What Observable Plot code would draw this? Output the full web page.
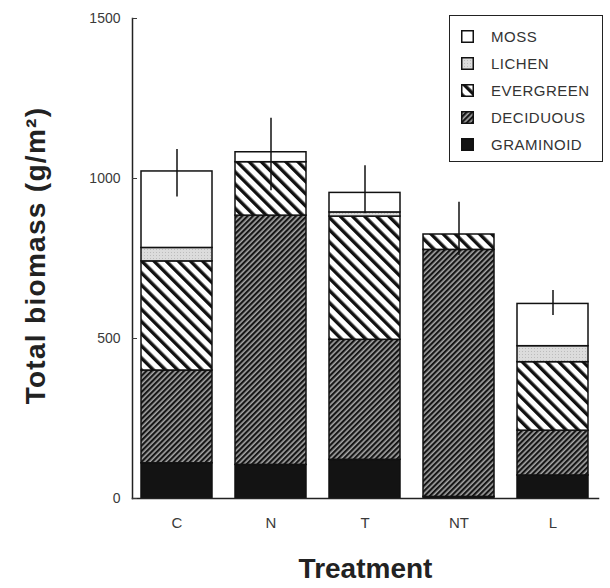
<!DOCTYPE html>
<html>
<head>
<meta charset="utf-8">
<script src="https://cdn.jsdelivr.net/npm/d3@7"></script>
<script src="https://cdn.jsdelivr.net/npm/@observablehq/plot@0.6"></script>
<style>
  html, body { margin: 0; padding: 0; background: #fff; }
  #wrap { position: relative; width: 610px; height: 588px; font-family: "Liberation Sans", Arial, sans-serif; }
  #legend { position: absolute; left: 449px; top: 15px; width: 154px; height: 147px; border: 1.5px solid #222; box-sizing: border-box; background: #fff; }
  .item { position: absolute; left: 0; height: 16px; display: flex; align-items: center; }
  .item svg { margin-left: 11px; }
  .item span { margin-left: 17px; font-size: 15px; color: #333; letter-spacing: 0.5px; }
  .ylab text { letter-spacing: 1.3px; }
</style>
</head>
<body>
<div id="wrap"></div>
<script>
const treatments = ["C", "N", "T", "NT", "L"];
const components = ["GRAMINOID", "DECIDUOUS", "EVERGREEN", "LICHEN", "MOSS"];
const legendOrder = ["MOSS", "LICHEN", "EVERGREEN", "DECIDUOUS", "GRAMINOID"];
const graminoid = [110, 105, 121, 5, 72];
const deciduous = [290, 779, 375, 772, 140];
const evergreen = [341, 167, 385, 48, 214];
const lichen = [42, 0, 13, 0, 50];
const moss = [239, 31, 61, 0, 132];
const errUpper = [1091, 1188, 1040, 926, 650];
const errLower = [942, 962, 890, 759, 572];
const yTicks = [0, 500, 1000, 1500];

const series = {GRAMINOID: graminoid, DECIDUOUS: deciduous, EVERGREEN: evergreen, LICHEN: lichen, MOSS: moss};
const patternUrl = {
  GRAMINOID: "url(#pGram)",
  DECIDUOUS: "url(#pDec)",
  EVERGREEN: "url(#pEver)",
  LICHEN: "url(#pLich)",
  MOSS: "url(#pMoss)"
};

const rows = [];
treatments.forEach((t, i) => {
  components.forEach(c => rows.push({treatment: t, component: c, value: series[c][i]}));
});
const errRows = treatments.map((t, i) => ({treatment: t, lo: errLower[i], hi: errUpper[i]}));

function defs() {
  const d = d3.create("svg:defs");
  const ev = d.append("pattern").attr("id", "pEver").attr("patternUnits", "userSpaceOnUse")
    .attr("width", 8.6).attr("height", 8.6).attr("patternTransform", "rotate(-45)");
  ev.append("rect").attr("width", 8.6).attr("height", 8.6).attr("fill", "#fff");
  ev.append("rect").attr("width", 3.4).attr("height", 8.6).attr("fill", "#111");
  const de = d.append("pattern").attr("id", "pDec").attr("patternUnits", "userSpaceOnUse")
    .attr("width", 3.8).attr("height", 3.8).attr("patternTransform", "rotate(45)");
  de.append("rect").attr("width", 3.8).attr("height", 3.8).attr("fill", "#a6a6a6");
  de.append("rect").attr("width", 2.2).attr("height", 3.8).attr("fill", "#161616");
  const gr = d.append("pattern").attr("id", "pGram").attr("patternUnits", "userSpaceOnUse")
    .attr("width", 4).attr("height", 4);
  gr.append("rect").attr("width", 4).attr("height", 4).attr("fill", "#131313");
  const li = d.append("pattern").attr("id", "pLich").attr("patternUnits", "userSpaceOnUse")
    .attr("width", 3).attr("height", 3);
  li.append("rect").attr("width", 3).attr("height", 3).attr("fill", "#dcdcdc");
  li.append("rect").attr("width", 1).attr("height", 1).attr("fill", "#bcbcbc");
  const mo = d.append("pattern").attr("id", "pMoss").attr("patternUnits", "userSpaceOnUse")
    .attr("width", 4).attr("height", 4);
  mo.append("rect").attr("width", 4).attr("height", 4).attr("fill", "#fff");
  return d.node();
}

const chart = Plot.plot({
  width: 610,
  height: 588,
  marginLeft: 132,
  marginRight: 12,
  marginTop: 18,
  marginBottom: 90,
  style: {fontFamily: "Liberation Sans, Arial, sans-serif", background: "transparent", color: "#222"},
  x: {domain: treatments, paddingInner: 0.24, paddingOuter: 0.085, label: null},
  y: {domain: [0, 1500], label: null},
  color: {type: "identity"},
  marks: [
    defs,
    Plot.barY(rows, Plot.stackY({
      x: "treatment", y: "value", z: "component", order: components,
      fill: d => patternUrl[d.component], stroke: "#111", strokeWidth: 1.5
    })),
    Plot.ruleX(errRows, {x: "treatment", y1: "lo", y2: "hi", stroke: "#111", strokeWidth: 1.5}),
    Plot.frame({anchor: "left", stroke: "#222", strokeWidth: 1.5}),
    Plot.frame({anchor: "bottom", stroke: "#222", strokeWidth: 1.5}),
    Plot.axisY({ticks: yTicks, tickSize: 5, dx: 5, tickPadding: 12, fontSize: 14, color: "#3a3a3a", label: null, tickFormat: d => String(d)}),
    Plot.axisX({tickSize: 0, tickPadding: 19, fontSize: 15, color: "#3a3a3a", label: null}),
    Plot.text(["Treatment"], {text: d => d, frameAnchor: "bottom", dy: 79, fontSize: 28, fontWeight: "bold", fill: "#222", textAnchor: "middle"}),
    Plot.text(["Total biomass (g/m²)"], {text: d => d, frameAnchor: "left", dx: -96, dy: -3, rotate: -90, fontSize: 28, fontWeight: "bold", fill: "#222", textAnchor: "middle", className: "ylab"})
  ]
});

const wrap = document.getElementById("wrap");
wrap.appendChild(chart);

const legend = document.createElement("div");
legend.id = "legend";
legendOrder.forEach((c, i) => {
  const item = document.createElement("div");
  item.className = "item";
  item.style.top = (12 + i * 27) + "px";
  item.innerHTML = `<svg width="13" height="13"><rect x="0.75" y="0.75" width="11.5" height="11.5" fill="${patternUrl[c]}" stroke="#111" stroke-width="1.5"/></svg><span>${c}</span>`;
  legend.appendChild(item);
});
wrap.appendChild(legend);
</script>
</body>
</html>
